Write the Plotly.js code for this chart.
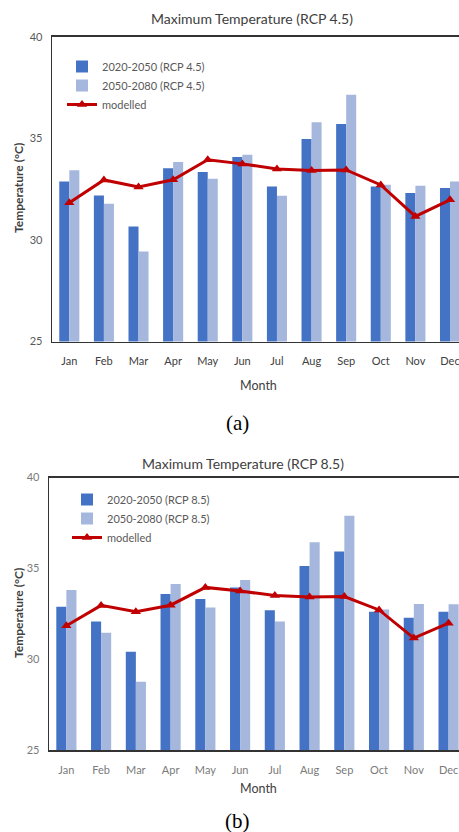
<!DOCTYPE html>
<html><head><meta charset="utf-8">
<script src="https://cdn.plot.ly/plotly-3.0.1.min.js"></script>
<style>html,body{margin:0;padding:0;background:#fff;overflow:hidden}</style>
</head><body><div id="chart" style="width:459px;height:832px"></div>
<script>
const months = ["Jan","Feb","Mar","Apr","May","Jun","Jul","Aug","Sep","Oct","Nov","Dec"];
const yTicks = [25, 30, 35, 40];
const rcp45_2020_2050 = [32.88, 32.19, 30.66, 33.54, 33.35, 34.09, 32.64, 34.97, 35.72, 32.64, 32.31, 32.56];
const rcp45_2050_2080 = [33.43, 31.78, 29.43, 33.84, 33.02, 34.20, 32.18, 35.80, 37.16, 32.72, 32.67, 32.88];
const rcp85_2020_2050 = [32.89, 32.08, 30.41, 33.59, 33.31, 33.95, 32.69, 35.13, 35.92, 32.61, 32.28, 32.61];
const rcp85_2050_2080 = [33.81, 31.46, 28.76, 34.14, 32.85, 34.36, 32.08, 36.43, 37.90, 32.74, 33.04, 33.02];
const modelled = [31.84, 32.96, 32.61, 32.97, 33.95, 33.75, 33.50, 33.42, 33.45, 32.71, 31.16, 31.98];

const darkBlue = "#4472C4", lightBlue = "#A6B7DE", red = "#C00000";
const font = "Lato, 'Open Sans', sans-serif";

function bars(y, name, color, xa, ya, leg) {
  return {type: "bar", x: months, y: y, name: name, marker: {color: color},
          xaxis: xa, yaxis: ya, legend: leg, hoverinfo: "skip"};
}
function line(xa, ya, leg) {
  return {type: "scatter", mode: "lines+markers", x: months, y: modelled, name: "modelled",
          line: {color: red, width: 3}, marker: {symbol: "triangle-up", size: 9, color: red},
          xaxis: xa, yaxis: ya, legend: leg, hoverinfo: "skip"};
}

const data = [
  bars(rcp45_2020_2050, "2020-2050 (RCP 4.5)", darkBlue, "x", "y", "legend"),
  bars(rcp45_2050_2080, "2050-2080 (RCP 4.5)", lightBlue, "x", "y", "legend"),
  line("x", "y", "legend"),
  bars(rcp85_2020_2050, "2020-2050 (RCP 8.5)", darkBlue, "x2", "y2", "legend2"),
  bars(rcp85_2050_2080, "2050-2080 (RCP 8.5)", lightBlue, "x2", "y2", "legend2"),
  line("x2", "y2", "legend2")
];

function xax(domain, range, tickColor, anchor) {
  return {domain: domain, range: range, anchor: anchor, type: "category",
          showline: true, linecolor: "#333", linewidth: 1.6, mirror: true,
          showgrid: false, zeroline: false, ticks: "outside", ticklen: 9,
          tickcolor: "rgba(0,0,0,0)", tickfont: {family: font, size: 11, color: tickColor}};
}
function yax(domain, anchor, tickColor) {
  return {domain: domain, range: [25, 40], anchor: anchor, tickvals: yTicks,
          showline: true, linecolor: "#333", linewidth: 1.4,
          showgrid: false, zeroline: false, ticks: "outside", ticklen: 6,
          tickcolor: "rgba(0,0,0,0)", tickfont: {family: font, size: 11, color: tickColor}};
}

function ann(text, x, y, size, opts) {
  return Object.assign({text: text, x: x / 459, y: 1 - y / 832, xref: "paper", yref: "paper",
    showarrow: false, xanchor: "center", yanchor: "middle",
    font: {family: font, size: size, color: "#404040"}}, opts || {});
}

const layout = {
  width: 459, height: 832, autosize: false,
  margin: {l: 0, r: 0, t: 0, b: 0},
  paper_bgcolor: "#fff", plot_bgcolor: "#fff",
  barmode: "group", bargap: 0.42, bargroupgap: 0,
  showlegend: true,
  xaxis: xax([52 / 459, 1], [-0.5, 11.26], "#404040", "y"),
  yaxis: yax([1 - 341.5 / 832, 1 - 37 / 832], "x", "#595959"),
  xaxis2: xax([49 / 459, 1], [-0.5, 11.3], "#7a7a7a", "y2"),
  yaxis2: yax([1 - 750 / 832, 1 - 477.5 / 832], "x2", "#7a7a7a"),
  legend: {x: 62 / 459, y: 1 - 52 / 832, xanchor: "left", yanchor: "top",
           bgcolor: "rgba(0,0,0,0)", font: {family: font, size: 11, color: "#595959"},
           traceorder: "normal", tracegroupgap: 0},
  legend2: {x: 67 / 459, y: 1 - 485 / 832, xanchor: "left", yanchor: "top",
           bgcolor: "rgba(0,0,0,0)", font: {family: font, size: 11, color: "#595959"},
           traceorder: "normal", tracegroupgap: 0},
  annotations: [
    ann("Maximum Temperature (RCP 4.5)", 252, 19, 14, {}),
    ann("Maximum Temperature (RCP 8.5)", 243, 463, 14, {}),
    ann("Month", 258, 385, 12.5, {}),
    ann("Month", 258, 788, 12.5, {}),
    ann("<b>Temperature (°C)</b>", 19, 188, 12, {textangle: -90}),
    ann("<b>Temperature (°C)</b>", 18, 613, 12, {textangle: -90}),
    ann("(a)", 237, 423, 21, {font: {family: "'Liberation Serif', 'Times New Roman', serif", size: 21, color: "#000"}}),
    ann("(b)", 237, 821, 21, {font: {family: "'Liberation Serif', 'Times New Roman', serif", size: 21, color: "#000"}})
  ]
};

Plotly.newPlot("chart", data, layout, {staticPlot: true, displayModeBar: false});
</script>
</body></html>
